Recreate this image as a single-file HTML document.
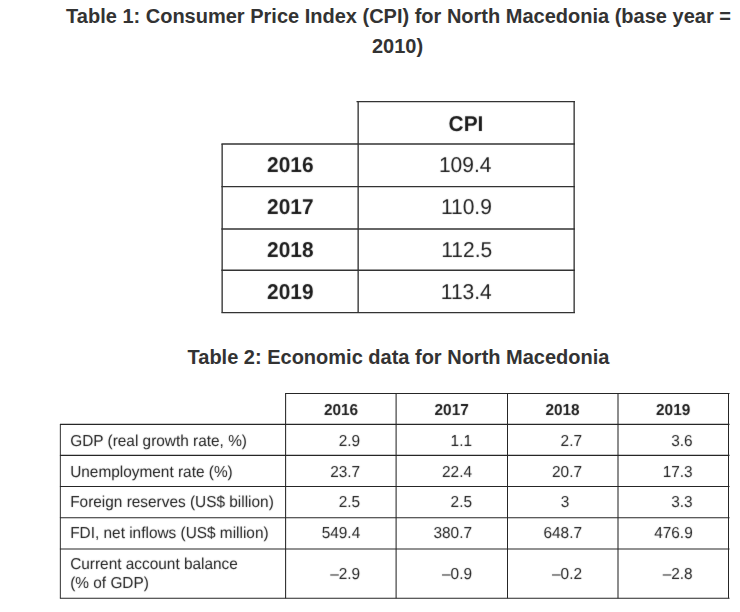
<!DOCTYPE html>
<html>
<head>
<meta charset="utf-8">
<title>Tables</title>
<style>
html,body{margin:0;padding:0;background:#fff;}
body{width:740px;height:612px;position:relative;overflow:hidden;font-family:"Liberation Sans",sans-serif;}
.ttl{position:absolute;left:58px;width:681px;text-align:center;font-weight:bold;font-size:20px;line-height:30px;color:#333;white-space:nowrap;}
svg{position:absolute;left:0;top:0;}
svg text{font-family:"Liberation Sans",sans-serif;fill:#1c1c1c;text-rendering:geometricPrecision;}
.b{font-weight:bold;}
</style>
</head>
<body>
<div class="ttl" style="top:1px;left:58px;">Table 1: Consumer Price Index (CPI) for North Macedonia (base year =</div>
<div class="ttl" style="top:31px;left:57px;">2010)</div>
<div class="ttl" style="top:342px;">Table 2: Economic data for North Macedonia</div>

<svg width="740" height="612" viewBox="0 0 740 612">
  <defs>
    <filter id="soft" x="0" y="0" width="740" height="612" filterUnits="userSpaceOnUse" color-interpolation-filters="sRGB">
      <feConvolveMatrix order="3" kernelMatrix="0.012 0.05 0.012 0.05 0.752 0.05 0.012 0.05 0.012" divisor="1" edgeMode="duplicate" preserveAlpha="false"/>
    </filter>
  </defs>
  <!-- Table 1 -->
  <g stroke="#333" stroke-width="1.35" fill="none">
    <line x1="356.5" y1="101.55" x2="575" y2="101.55" stroke-width="1.25"/>
    <line x1="221.4" y1="144" x2="575" y2="144" stroke-width="1.45"/>
    <line x1="221.4" y1="186.5" x2="575" y2="186.5" stroke-width="1.25"/>
    <line x1="221.4" y1="229" x2="575" y2="229" stroke-width="1.4"/>
    <line x1="221.4" y1="270.2" x2="575" y2="270.2" stroke-width="1.4"/>
    <line x1="221.4" y1="312.55" x2="575" y2="312.55" stroke-width="1.25"/>
    <line x1="222.15" y1="144" x2="222.15" y2="312.55"/>
    <line x1="358.15" y1="101.55" x2="358.15" y2="312.55"/>
    <line x1="574.15" y1="101.55" x2="574.15" y2="312.55"/>
  </g>
  <g font-size="21" text-anchor="middle" filter="url(#soft)" transform="scale(1,1.025)">
    <text class="b" font-size="20.9" x="466" y="127.61">CPI</text>
    <text class="b" font-size="20.9" x="290.3" y="168.0">2016</text>
    <text class="b" font-size="20.9" x="290.3" y="208.88">2017</text>
    <text class="b" font-size="20.9" x="290.3" y="250.44">2018</text>
    <text class="b" font-size="20.9" x="290.3" y="292.1">2019</text>
    <text x="465.2" y="168.0">109.4</text>
    <text x="466.4" y="209.27">110.9</text>
    <text x="466.7" y="250.44">112.5</text>
    <text x="466.3" y="292.2">113.4</text>
  </g>

  <!-- Table 2 -->
  <g stroke="#262626" stroke-width="1.05" fill="none">
    <line x1="285.1" y1="393.5" x2="729.5" y2="393.5" stroke-width="1.2"/>
    <line x1="59.9" y1="424.45" x2="729.5" y2="424.45" stroke-width="1.2"/>
    <line x1="59.9" y1="455.4" x2="729.5" y2="455.4" stroke-width="1.2"/>
    <line x1="59.9" y1="486.5" x2="729.5" y2="486.5" stroke-width="1.2"/>
    <line x1="59.9" y1="517.75" x2="729.5" y2="517.75" stroke-width="1.1"/>
    <line x1="59.9" y1="549" x2="729.5" y2="549" stroke-width="1.1"/>
    <line x1="59.9" y1="598.25" x2="729.5" y2="598.25" stroke-width="1"/>
    <line x1="60.35" y1="424.45" x2="60.35" y2="598.25" stroke-width="0.95"/>
    <line x1="285.6" y1="393.5" x2="285.6" y2="598.25"/>
    <line x1="396.1" y1="393.5" x2="396.1" y2="598.25"/>
    <line x1="507.5" y1="393.5" x2="507.5" y2="598.25"/>
    <line x1="618" y1="393.5" x2="618" y2="598.25"/>
    <line x1="728.5" y1="393.5" x2="728.5" y2="598.25" stroke-width="1"/>
  </g>
  <g font-size="15.4" transform="scale(1,1.03)" filter="url(#soft)">
      <g class="b" text-anchor="middle">
      <text x="341.0" y="402.72">2016</text>
      <text x="451.7" y="402.72">2017</text>
      <text x="562.5" y="402.72">2018</text>
      <text x="673.2" y="402.72">2019</text>
      </g>
      <text x="70.2" y="432.72">GDP (real growth rate, %)</text>
      <text x="70.2" y="462.82">Unemployment rate (%)</text>
      <text x="70.2" y="492.23">Foreign reserves (US$ billion)</text>
      <text x="70.2" y="522.52">FDI, net inflows (US$ million)</text>
      <text x="70.2" y="552.72">Current account balance</text>
      <text x="70.2" y="570.49">(% of GDP)</text>
      <g text-anchor="end">
      <text x="360.2" y="432.72">2.9</text>
      <text x="472.0" y="432.72">1.1</text>
      <text x="582.0" y="432.72">2.7</text>
      <text x="692.7" y="432.72">3.6</text>
      <text x="360.2" y="462.82">23.7</text>
      <text x="472.0" y="462.82">22.4</text>
      <text x="582.0" y="462.82">20.7</text>
      <text x="692.7" y="462.82">17.3</text>
      <text x="360.2" y="492.23">2.5</text>
      <text x="472.0" y="492.23">2.5</text>
      <text x="569.2" y="492.23">3</text>
      <text x="692.7" y="492.23">3.3</text>
      <text x="360.2" y="522.52">549.4</text>
      <text x="472.0" y="522.52">380.7</text>
      <text x="582.0" y="522.52">648.7</text>
      <text x="692.7" y="522.52">476.9</text>
      <text x="360.2" y="562.14">–2.9</text>
      <text x="472.0" y="562.14">–0.9</text>
      <text x="582.0" y="562.14">–0.2</text>
      <text x="692.7" y="562.14">–2.8</text>
      </g>
  </g>
</svg>
</body>
</html>
